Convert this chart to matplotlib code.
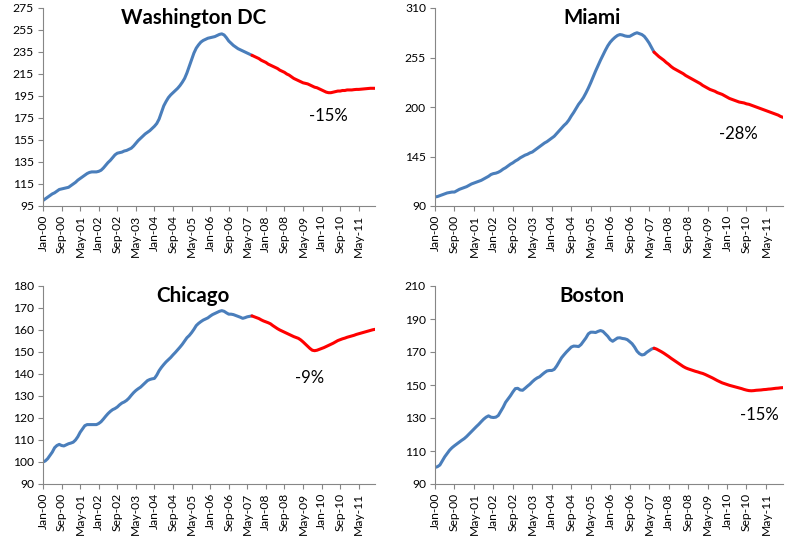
import matplotlib
matplotlib.use("Agg")
import matplotlib.pyplot as plt

plt.rcParams["font.family"] = ["Lato", "DejaVu Sans"]

# monthly index values, Jan-00 .. Dec-11 (Jan-00 = 100)
tick_labels = ["Jan-00", "Sep-00", "May-01", "Jan-02", "Sep-02", "May-03",
               "Jan-04", "Sep-04", "May-05", "Jan-06", "Sep-06", "May-07",
               "Jan-08", "Sep-08", "May-09", "Jan-10", "Sep-10", "May-11"]
split = 90  # Jul-07: actual data before, projection (red) after

washington = [
    100, 101.5, 103, 104.5, 106, 107, 108.5, 110, 110.5, 111, 111.5, 112,
    113.5, 115, 116.5, 118.5, 120, 121.5, 123, 124.5, 125.5, 126, 126, 126,
    126.5, 127.5, 129.5, 132, 134.5, 136.5, 139, 141.5, 143, 143.5, 144, 145,
    145.5, 146.5, 147.5, 149.5, 152, 154.5, 156.5, 158.5, 160.5, 162, 163.5, 165.5,
    167.5, 170, 174, 180, 186, 190, 193.5, 196, 198, 200, 202, 204.5,
    207.5, 211, 216, 222, 228, 234, 238.5, 241.5, 244, 245.5, 246.5, 247.5,
    248, 248.5, 249, 250, 251, 251.5, 250.5, 248, 245, 243, 241, 239.5,
    238, 237, 236, 235, 234, 233, 232, 231, 230, 229, 227.5, 226.5,
    225.5, 224, 223, 222, 221, 220, 218.5, 217.5, 216.5, 215, 214, 212.5,
    211, 210, 209, 208, 207, 206.5, 206, 205, 204, 203, 202.5, 201.5,
    200.5, 199.5, 198.5, 198, 198, 198.5, 199, 199.5, 199.5, 200, 200, 200.5,
    200.5, 200.5, 200.8, 201, 201, 201.2, 201.4, 201.6, 201.8, 202, 202, 202]

miami = [
    100, 100.5, 101.5, 102.5, 103.5, 104.5, 105, 105.5, 105.5, 107, 108.5, 109.5,
    110.5, 111.5, 113, 114.5, 115.5, 116.5, 117.5, 118.5, 120, 121.5, 123, 125,
    126, 126.5, 127.5, 129, 131, 132.5, 134.5, 136.5, 138, 140, 141.5, 143.5,
    145, 146.5, 147.5, 149, 150, 152, 154, 156, 158, 160, 161.5, 163.5,
    165.5, 167.5, 170.5, 173.5, 176.5, 179.5, 182, 185.5, 190, 194, 198.5, 203,
    206.5, 210.5, 215.5, 221, 227, 233.5, 240, 246, 252, 257.5, 263, 268,
    272, 275, 277.5, 279.5, 280.5, 280, 279, 278.5, 278.5, 280, 281.5, 282.5,
    281.5, 280.5, 278.5, 275, 271, 266, 261, 258.5, 256, 254, 252, 249.5,
    247.5, 245, 243, 241.5, 240, 238.5, 237, 235, 233.5, 232, 230.5, 229,
    227.5, 226, 224, 222.5, 221, 219.5, 218.5, 217.5, 216, 215, 214, 212.5,
    211, 209.5, 208.5, 207.5, 206.5, 205.5, 205, 204.5, 203.5, 203, 202, 201,
    200, 199, 198, 197, 196, 195, 194, 193, 192, 191, 189.5, 188.5]

chicago = [
    100, 100.5, 101.5, 103, 104.5, 106.5, 107.5, 108, 107.5, 107.3, 107.8, 108.3,
    108.6, 109, 110, 111.5, 113.5, 115, 116.5, 117, 117, 117, 117, 117,
    117.5, 118.3, 119.5, 120.8, 122, 123, 123.8, 124.3, 125, 126, 126.8, 127.3,
    128, 129, 130.3, 131.5, 132.5, 133.3, 134, 135, 136, 137, 137.5, 137.8,
    138, 139.5, 141.5, 143, 144.3, 145.5, 146.5, 147.5, 148.7, 149.8, 151, 152.2,
    153.5, 155, 156.5, 157.5, 158.8, 160.3, 162, 163, 163.8, 164.5, 165, 165.5,
    166.3, 167, 167.5, 168, 168.5, 168.8, 168.5, 167.8, 167.2, 167.2, 167, 166.6,
    166.2, 165.8, 165.3, 165.6, 166, 166.2, 166.4, 166, 165.6, 165.2, 164.6, 164.1,
    163.7, 163.3, 162.8, 162, 161.3, 160.6, 160, 159.5, 159, 158.5, 158, 157.5,
    157, 156.6, 156.2, 155.5, 154.6, 153.6, 152.6, 151.6, 150.8, 150.6, 150.8, 151.2,
    151.6, 152, 152.5, 153, 153.5, 154, 154.6, 155.2, 155.6, 156, 156.3, 156.7,
    157, 157.3, 157.6, 158, 158.3, 158.6, 158.9, 159.2, 159.5, 159.8, 160.1, 160.3]

boston = [
    100, 100.5, 101.5, 104, 106.5, 108.5, 110.5, 112, 113.2, 114.3, 115.4, 116.5,
    117.5, 118.8, 120.3, 121.8, 123.3, 124.8, 126.2, 127.8, 129.3, 130.5, 131.3, 130.5,
    130.3, 130.5, 131.5, 134, 136.5, 139.5, 141.5, 143.5, 145.8, 147.8, 148, 147,
    146.8, 148, 149.3, 150.5, 152, 153.3, 154.3, 155, 156.3, 157.5, 158.5, 158.8,
    158.8, 159.5, 161.5, 164, 166.5, 168.3, 170, 171.5, 173, 173.6, 173.5, 173.3,
    174.5, 176.5, 178.5, 181, 182, 182, 181.8, 182.5, 183, 182.5, 181, 179.5,
    177.5, 176.5, 177.5, 178.5, 178.6, 178.2, 178, 177.5, 176.3, 175, 173, 170.5,
    169, 168.2, 168.5, 169.8, 170.8, 171.8, 172.3, 171.8, 171, 170.2, 169.3, 168.3,
    167.3, 166.2, 165.2, 164.2, 163.2, 162.2, 161.2, 160.4, 159.8, 159.3, 158.8, 158.3,
    157.9, 157.4, 157, 156.4, 155.7, 155, 154.3, 153.5, 152.7, 152, 151.3, 150.8,
    150.3, 149.8, 149.4, 149, 148.6, 148.2, 147.8, 147.3, 146.9, 146.6, 146.5, 146.6,
    146.8, 146.9, 147, 147.2, 147.3, 147.5, 147.6, 147.8, 148, 148.1, 148.3, 148.4]

titles = ["Washington DC", "Miami", "Chicago", "Boston"]
changes = ["-15%", "-28%", "-9%", "-15%"]
series = [washington, miami, chicago, boston]
yticks = [range(95, 276, 20), range(90, 311, 55), range(90, 181, 10), range(90, 211, 20)]
label_pos = [(123, 176.5), (124.5, 169.6), (114.8, 138.4), (133.3, 131.7)]

W, H = 800, 539
boxes = [(43, 8, 332, 198), (435, 8, 348, 198), (43, 286, 332, 198), (435, 286, 348, 198)]
title_x = [0.455, 0.451, 0.452, 0.451]

fig = plt.figure(figsize=(8, 5.39), dpi=100)
for i in range(4):
    x0, y0, w, h = boxes[i]
    ax = fig.add_axes([x0 / W, (H - y0 - h) / H, w / W, h / H])
    vals = series[i]
    months = list(range(len(vals)))
    ax.plot(months[:split + 1], vals[:split + 1], color="#4a7ebb", lw=2.2, solid_capstyle="round")
    ax.plot(months[split:], vals[split:], color="#ff0000", lw=2.2, solid_capstyle="round")
    yt = list(yticks[i])
    ax.set_ylim(yt[0], yt[-1])
    ax.set_yticks(yt)
    ax.set_xlim(0, len(vals) - 1)
    ax.set_xticks(range(0, len(vals), 8))
    ax.set_xticklabels(tick_labels, rotation=90)
    ax.tick_params(labelsize=8.7, length=3.5, color="#868686", pad=3)
    for s in ["top", "right"]:
        ax.spines[s].set_visible(False)
    for s in ["left", "bottom"]:
        ax.spines[s].set_color("#868686")
    ax.text(title_x[i], 0.95, titles[i], transform=ax.transAxes, ha="center", va="center",
            fontsize=14.8, fontweight="bold")
    ax.text(label_pos[i][0], label_pos[i][1], changes[i], ha="center", va="center", fontsize=12)

fig.savefig("out.png", dpi=100)
